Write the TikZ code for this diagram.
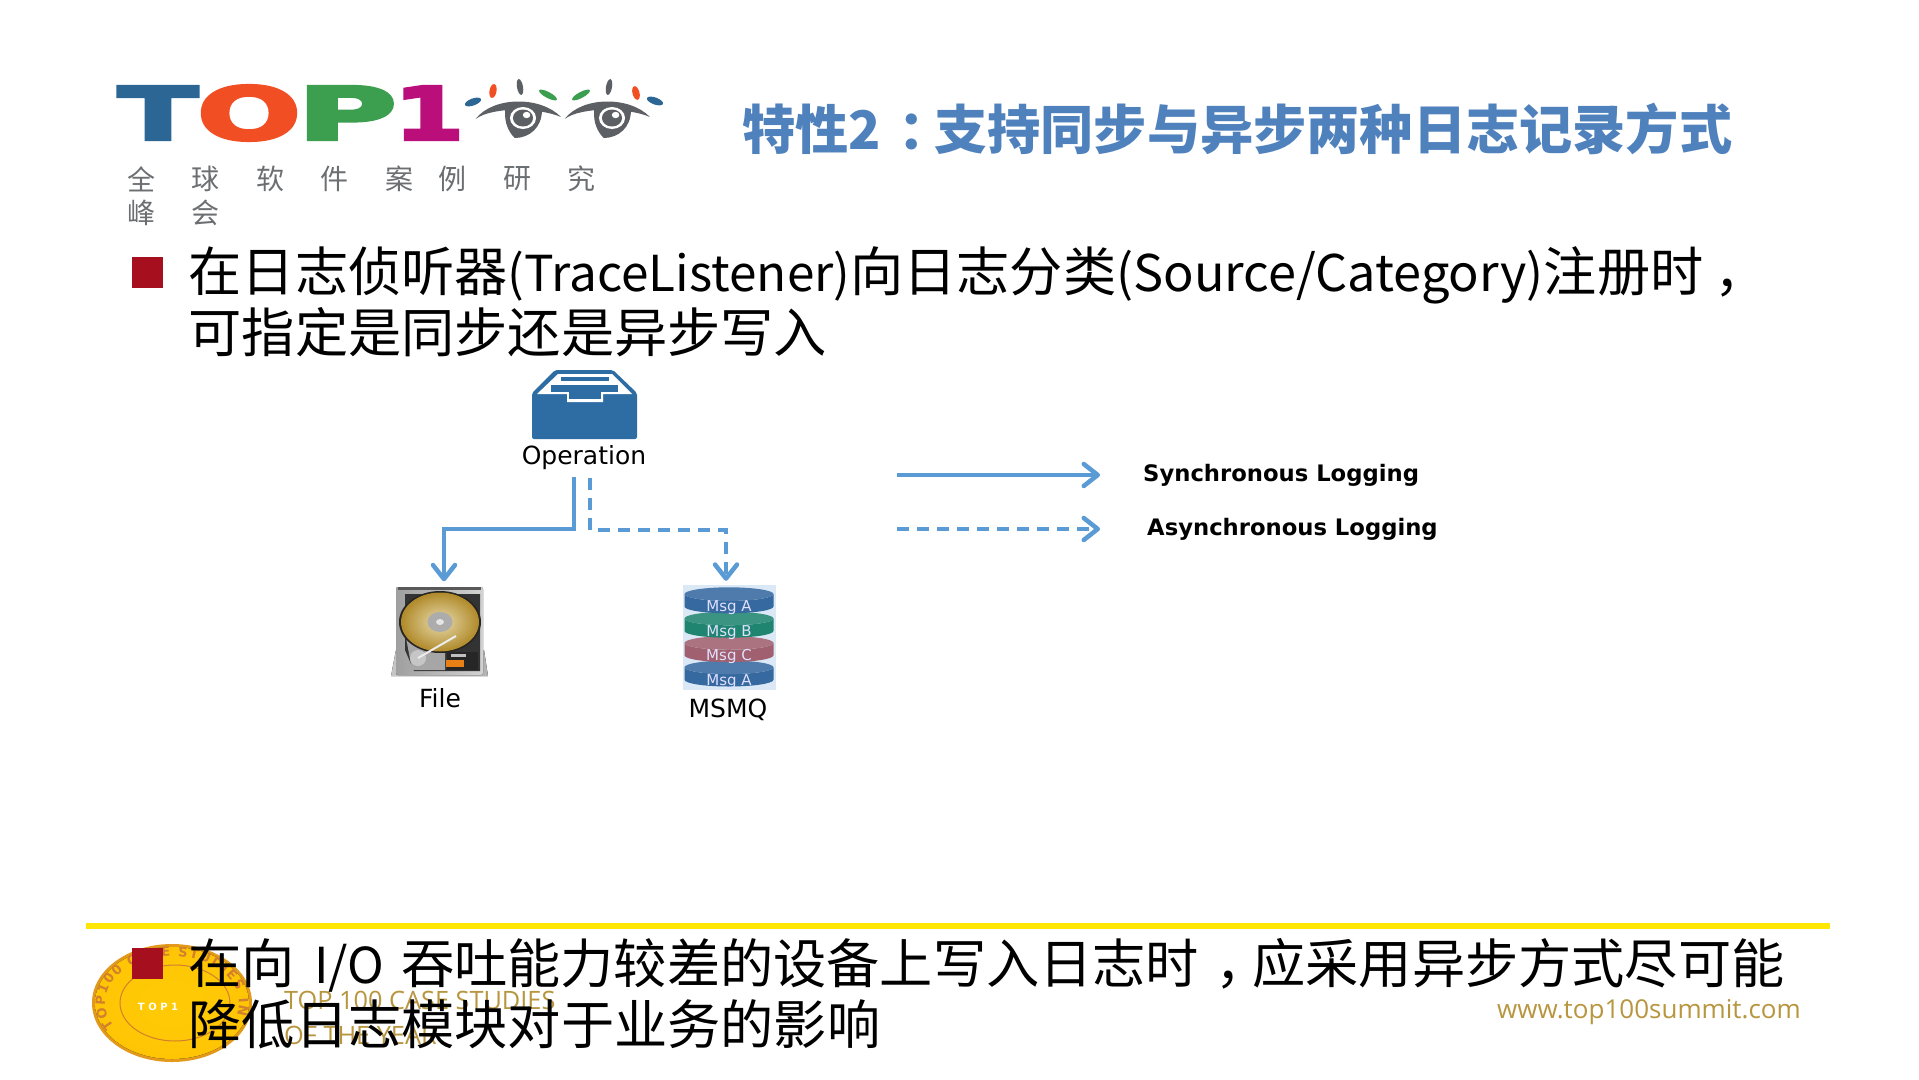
\documentclass[tikz,border=0pt]{standalone}
\usepackage{fontspec}
\setmainfont{Open Sans}
\newfontfamily\cjk{Noto Sans CJK SC}
\newfontfamily\lucid{DejaVu Sans}
\newfontfamily\logofont[FakeBold=4]{DejaVu Sans Bold}
\usetikzlibrary{arrows.meta, positioning, shapes.geometric, decorations.text, calc}
\definecolor{topblue}{HTML}{2B6695}
\definecolor{toporange}{HTML}{F24E23}
\definecolor{topgreen}{HTML}{3C9E4F}
\definecolor{topmagenta}{HTML}{BA0F7A}
\definecolor{eyegray}{HTML}{5C5F63}
\definecolor{titleblue}{HTML}{4F81BD}
\definecolor{linkblue}{HTML}{5B9BD5}
\definecolor{trayblue}{HTML}{2E6DA4}
\definecolor{bulletred}{HTML}{A50F1E}
\definecolor{goldtext}{HTML}{B8963F}
\definecolor{msgblue}{HTML}{36699F}
\definecolor{msggreen}{HTML}{1F8570}
\definecolor{msgred}{HTML}{A0606F}
\definecolor{coingold}{HTML}{FFCB05}
\definecolor{coinedge}{HTML}{E39A1C}
\definecolor{platterlight}{HTML}{E8DBAE}
\definecolor{platterdark}{HTML}{B08A2A}
\newcommand{\lat}[1]{{\fontsize{49.5}{62}\selectfont #1}}
\newcommand{\msglabel}[1]{\smash{\raisebox{-8pt}{#1}}}
\tikzset{
      logo letter/.style={
		font=\logofont\fontsize{73}{73}\selectfont,
		inner sep=0pt,
		anchor=center,
	  },
      sub text/.style={
		font=\cjk\fontsize{28}{28}\selectfont,
		text=eyegray!90,
		inner sep=0pt,
	  },
      body text/.style={
		font=\cjk\fontsize{53.2}{62}\selectfont,
		anchor=base west,
		inner sep=0pt,
	  },
      gold text/.style={
		font=\fontsize{25.3}{26}\selectfont,
		text=goldtext,
		anchor=west,
		inner sep=0pt,
	  },
      small label/.style={
		font=\lucid\fontsize{25}{25}\selectfont,
		inner sep=0pt,
	  },
      legend label/.style={
		font=\lucid\bfseries\fontsize{22.7}{22.7}\selectfont,
		anchor=west,
		inner sep=0pt,
	  },
      red bullet/.style={
		fill=bulletred,
		minimum width=31pt,
		minimum height=31pt,
		inner sep=0pt,
	  },
      sync line/.style={
		draw=linkblue,
		line width=4.5pt,
		-{Straight Barb[length=14pt,width=22pt,round]},
	  },
      async line/.style={
		sync line,
		dash pattern=on 12pt off 8pt,
	  },
      msg disk/.style={
		cylinder,
		shape border rotate=90,
		aspect=0.3,
		minimum width=89pt,
		minimum height=26pt,
		inner sep=0pt,
		cylinder uses custom fill,
		cylinder body fill=#1,
		cylinder end fill=#1!88!white,
		text=white!88!blue,
		font=\lucid\fontsize{15}{15}\selectfont,
	  },
      drop/.style={
		fill=#1,
		draw=none,
	  },
    }

\begin{document}
\begin{tikzpicture}[x=1pt, y=-1pt, node distance=-2pt]
    \useasboundingbox (0,0) rectangle (1919,1079);
    \fill[white] (0,0) rectangle (1919,1079);

    % logo
    \node [logo letter, text=topblue] (logot) at (158,113) {\scalebox{1.6}[1]{T}};
    \node [logo letter, text=toporange] (logoo) at (249,113) {\scalebox{1.67}[1]{O}};
    \node [logo letter, text=topgreen] (logop) at (347,113) {\scalebox{1.86}[1]{P}};
    \node [logo letter, text=topmagenta] (logoone) at (429,113) {\scalebox{1.38}[1]{1}};
    \foreach \eyex in {523,612} {
      \begin{scope}[shift={(\eyex,118)}, xscale=1.186]
        \fill[eyegray] (-40,1) .. controls (-25,-22) and (15,-22) .. (32,-1)
          .. controls (15,-10) and (-25,-12) .. cycle;
        \fill[eyegray] (-15,-8) .. controls (-16,5) and (-12,14) .. (-7,20)
          .. controls (5,20) and (16,10) .. (16,-8) -- cycle;
        \fill[white] (0,0) circle (11);
        \fill[eyegray] (0,0) circle (8.5);
        \fill[white] (3,-3) circle (3.2);
      \end{scope}
    }
    \fill[drop=topblue, rotate around={20:(473,102)}] (473,102) ellipse (8.5 and 3.5);
    \fill[drop=toporange, rotate around={80:(493,91)}] (493,91) ellipse (7 and 3.5);
    \fill[drop=eyegray, rotate around={100:(520,87)}] (520,87) ellipse (8 and 3);
    \fill[drop=topgreen, rotate around={-28:(548,95)}] (548,95) ellipse (10 and 3);
    \fill[drop=topgreen, rotate around={28:(581,95)}] (581,95) ellipse (10 and 3);
    \fill[drop=eyegray, rotate around={80:(609,87)}] (609,87) ellipse (8 and 3);
    \fill[drop=toporange, rotate around={105:(636,93)}] (636,93) ellipse (7 and 3.5);
    \fill[drop=topblue, rotate around={-20:(655,101)}] (655,101) ellipse (8.5 and 3.5);
    \foreach \zi/\zx/\zy in {全/141/179, 球/205/179, 软/270/179, 件/334/179, 案/399/179, 例/452/179, 研/517/179, 究/581/179, 峰/141/213, 会/205/213} {
      \node [sub text] (sub\zx\zy) at (\zx,\zy) {\zi};
    }

    % title
    \node [anchor=west, inner sep=0pt, text=titleblue, font=\cjk\bfseries\fontsize{53.2}{53}\selectfont] (title) at (742,129) {特性2\hspace{0.32em}：\hspace{-0.32em}支持同步与异步两种日志记录方式};

    % text
    \node [red bullet] (bulleta) at (147.5,272.5) {};
    \node [body text] (linea) at (188.5,291) {在日志侦听器\lat{(TraceListener)}向日志分类{\fontsize{50.5}{62}\selectfont (Source/Category)}注册时\hspace{0.2em}，};
    \node [body text] (lineb) at (188.5,352) {可指定是同步还是异步写入};

    % operation
    \fill[trayblue, rounded corners=2pt] (555,370) -- (613,370) -- (637,393) -- (637,439) -- (532,439) -- (532,393) -- cycle;
    \fill[white] (537,394) -- (558,374) -- (612,374) -- (632,394) -- (603,394) -- (603,402) -- (567,402) -- (567,394) -- cycle;
    \fill[trayblue] (561,377) rectangle (609,381);
    \fill[trayblue] (551,385) rectangle (618,392);
    \fill[trayblue] (569,392) rectangle (601,399);
    \node [small label] (oplabel) at (584,458) {Operation};

    % file
    \node [inner sep=0pt, minimum width=87pt, minimum height=89pt] (disk) at (440,632) {};
    \fill[left color=gray!45, right color=gray!60] (391,676) -- (396,650) -- (484,650) -- (488,676) -- cycle;
    \fill[left color=gray!75, right color=gray!35, rounded corners=2pt] (396,587) rectangle (483,675);
    \fill[black!65] (398,587) rectangle (481,590);
    \fill[black!80] (405,594) -- (480,594) -- (480,671) -- (414,671) -- (405,650) -- cycle;
    \fill[gray!70] (405,632) -- (420,642) -- (445,648) -- (445,670) -- (412,670) -- cycle;
    \fill[black!85] (440,622) ellipse (41 and 31);
    \fill[inner color=platterlight, outer color=platterdark] (440,622) ellipse (39 and 29.5);
    \fill[gray!65] (440,622) ellipse (12.5 and 10);
    \fill[gray!20] (440,622) ellipse (4 and 3);
    \fill[gray!45] (418,658) circle (8);
    \draw[white!85!gray, line width=2pt] (418,658) -- (456,636);
    \fill[black!85] (447,652) rectangle (478,670);
    \fill[gray!50] (451,654) rectangle (466,657);
    \fill[orange!65!brown] (446,660) -- (464,660) -- (464,667) -- (446,667) -- cycle;
    \node [small label] (filelabel) at (440,698) {File};

    % msmq
    \node [fill=linkblue!22, minimum width=93pt, minimum height=105pt, inner sep=0pt] (msmq) at (729,637.5) {};
    \node [msg disk=msgblue] (msgd) at (729,677) {\msglabel{Msg A}};
    \node [msg disk=msgred, above=of msgd] (msgc) {\msglabel{Msg C}};
    \node [msg disk=msggreen, above=of msgc] (msgb) {\msglabel{Msg B}};
    \node [msg disk=msgblue, above=of msgb] (msga) {\msglabel{Msg A}};
    \node [small label] (msmqlabel) at (728,710) {MSMQ};

    % connectors
    \coordinate (syncout) at (574,477);
    \coordinate (asyncout) at (590,478);
    \coordinate (syncknee) at (444,529);
    \coordinate (asyncknee) at (726,530);
    \draw[sync line, shorten >=6pt] (syncout) |- (syncknee) -- (syncknee |- disk.north);
    \draw[async line, shorten >=4pt] (asyncout) |- (asyncknee) -- (asyncknee |- msmq.north);

    % legend
    \node [legend label] (synclabel) at (1143,475) {Synchronous Logging};
    \node [legend label] (asynclabel) at (1147,529) {Asynchronous Logging};
    \coordinate (syncleg) at (897,475);
    \coordinate (asyncleg) at (897,529);
    \draw[sync line, shorten >=43pt] (syncleg) -- (synclabel);
    \draw[async line, shorten >=47pt] (asyncleg) -- (asynclabel);

    % footer
    \draw[yellow!90!orange, line width=6pt] (86,926) -- (1830,926);
    \fill[coinedge] (172,1003) ellipse (80 and 59);
    \fill[inner color=coingold, outer color=coingold!92!orange] (172,1003) ellipse (77 and 56);
    \draw[brown!70!orange, line width=1pt] (175,1003) ellipse (55 and 38);
    \draw[decorate, decoration={text along path, text color=brown!70!orange, text align=fit to path,
      text={|\lucid\bfseries\fontsize{13}{13}\selectfont|TOP100 CASE STUDIES IN}}]
      (172,1003) ++(150:67 and 47) arc[start angle=150, end angle=375, x radius=67, y radius=47];
    \node [inner sep=0pt, text=white, font=\lucid\bfseries\fontsize{10}{10}\selectfont] (coinlabel) at (158,1007) {T O P 1};
    \node [gold text] (goldtop) at (284,1000) {TOP 100 CASE STUDIES};
    \node [gold text] (goldyear) at (284,1035) {OF THE YEAR};
    \node [red bullet] (bulletb) at (147.5,963.5) {};
    \node [body text] (linec) at (188.5,983) {在向\hspace{19pt}\lat{I/O}\hspace{17pt}吞吐能力较差的设备上写入日志时\hspace{0.3em}，\hspace{-0.3em}应采用异步方式尽可能};
    \node [body text] (lined) at (188.5,1044) {降低日志模块对于业务的影响};
    \node [gold text, font=\fontsize{26}{26}\selectfont, anchor=east] (weblabel) at (1801,1012) {www.top100summit.com};
\end{tikzpicture}
\end{document}
